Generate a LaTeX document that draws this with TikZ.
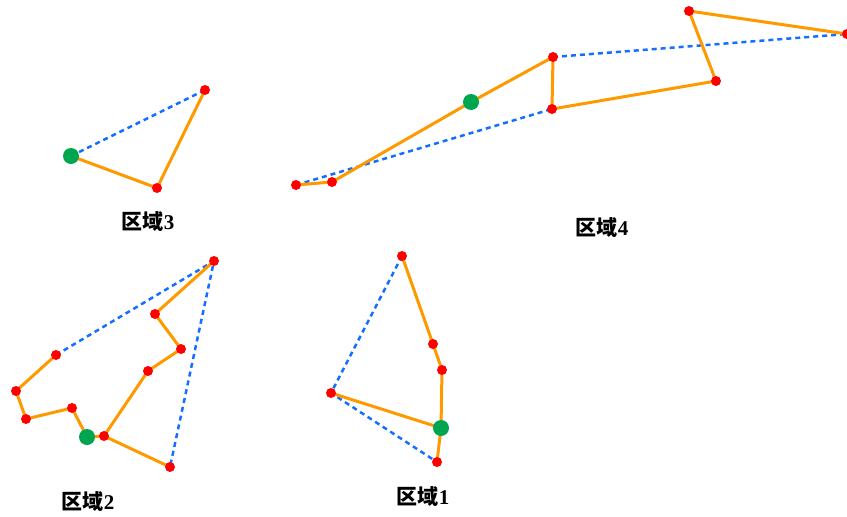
\documentclass[tikz,border=0pt]{standalone}
\usepackage{fontspec}
\setmainfont{Liberation Serif}
\newfontfamily\cjk{Noto Sans CJK SC}

\definecolor{pathorange}{RGB}{255,153,0}
\definecolor{hullblue}{RGB}{20,110,255}
\definecolor{dotred}{RGB}{255,0,0}
\definecolor{dotgreen}{RGB}{0,165,80}

\tikzset{
  edge/.style={pathorange, line width=3pt, line join=round},
  hull/.style={hullblue, line width=2.5pt, dash pattern=on 5pt off 4pt},
  reddot/.style={fill=dotred},
  greendot/.style={fill=dotgreen},
  regionname/.style={font=\fontsize{21}{23}\selectfont\bfseries}
}
\newcommand{\regiontext}[1]{{\cjk\bfseries 区域}#1}

\begin{document}
\begin{tikzpicture}[x=1pt,y=-1pt]
  \useasboundingbox (0,0) rectangle (847,517);

  % --- 区域3 ---
  \coordinate (s3) at (71,156);
  \coordinate (a3) at (157,188);
  \coordinate (b3) at (205,90);
  \draw[hull] (s3) -- (b3);
  \draw[edge] (s3) -- (a3) -- (b3);
  \fill[greendot] (s3) circle (8pt);
  \foreach \p in {a3,b3} \fill[reddot] (\p) circle (5pt);
  \node[regionname] (lab3) at (148,222) {\regiontext{3}};

  % --- 区域4 ---
  \coordinate (a4) at (296,185);
  \coordinate (b4) at (332,182);
  \coordinate (s4) at (471,102);
  \coordinate (c4) at (553,57);
  \coordinate (d4) at (552,109);
  \coordinate (e4) at (716,81);
  \coordinate (f4) at (689,11);
  \coordinate (g4) at (847,34);
  \draw[hull] (a4) -- (d4);
  \draw[hull] (c4) -- (g4);
  \draw[edge] (a4) -- (b4) -- (s4) -- (c4) -- (d4) -- (e4) -- (f4) -- (g4);
  \fill[greendot] (s4) circle (8pt);
  \foreach \p in {a4,b4,c4,d4,e4,f4,g4} \fill[reddot] (\p) circle (5pt);
  \node[regionname] (lab4) at (602,228) {\regiontext{4}};

  % --- 区域2 ---
  \coordinate (t2) at (214,261);
  \coordinate (a2) at (155,314);
  \coordinate (b2) at (181,349);
  \coordinate (c2) at (148,371);
  \coordinate (d2) at (104,436);
  \coordinate (s2) at (87,437);
  \coordinate (e2) at (72,408);
  \coordinate (f2) at (26,419);
  \coordinate (g2) at (16,391);
  \coordinate (h2) at (56,355);
  \coordinate (k2) at (170,467);
  \draw[hull] (h2) -- (t2) -- (k2);
  \draw[edge] (h2) -- (g2) -- (f2) -- (e2) -- (s2) -- (d2) -- (c2) -- (b2) -- (a2) -- (t2);
  \draw[edge] (d2) -- (k2);
  \fill[greendot] (s2) circle (8pt);
  \foreach \p in {t2,a2,b2,c2,d2,e2,f2,g2,h2,k2} \fill[reddot] (\p) circle (5pt);
  \node[regionname] (lab2) at (88,502) {\regiontext{2}};

  % --- 区域1 ---
  \coordinate (t1) at (402,256);
  \coordinate (a1) at (433,344);
  \coordinate (b1) at (442,370);
  \coordinate (s1) at (441,428);
  \coordinate (k1) at (437,462);
  \coordinate (l1) at (331,393);
  \draw[hull] (t1) -- (l1) -- (k1);
  \draw[edge] (t1) -- (a1) -- (b1) -- (s1) -- (k1);
  \draw[edge] (s1) -- (l1);
  \fill[greendot] (s1) circle (8pt);
  \foreach \p in {t1,a1,b1,k1,l1} \fill[reddot] (\p) circle (5pt);
  \node[regionname] (lab1) at (423,497) {\regiontext{1}};

\end{tikzpicture}
\end{document}
